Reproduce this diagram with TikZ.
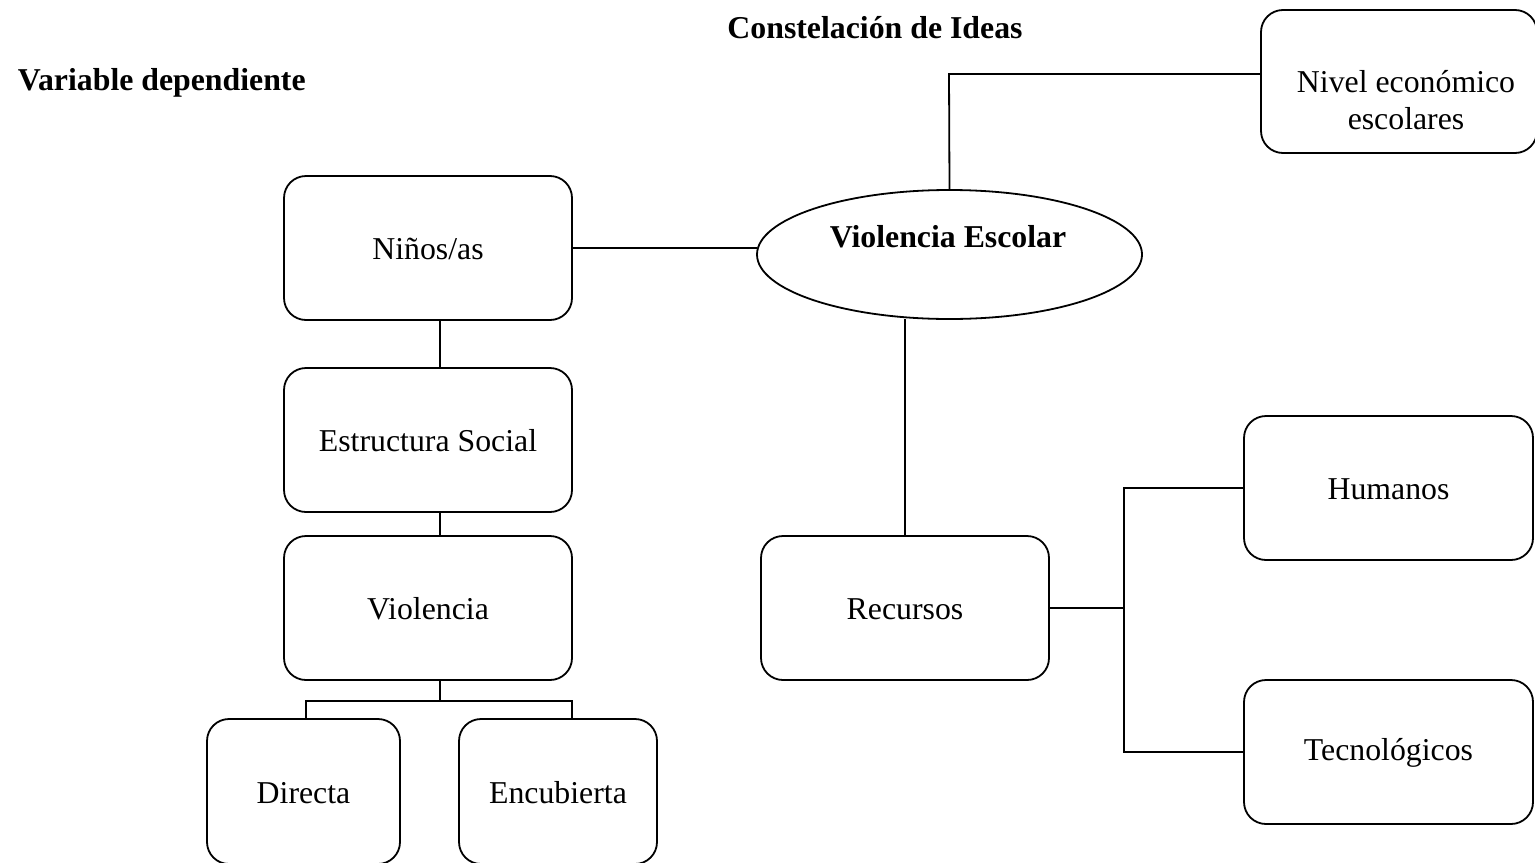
\documentclass[tikz,border=0pt]{standalone}
\usepackage{fontspec}
\setmainfont{Liberation Serif}
\usetikzlibrary{shapes.geometric}
\begin{document}
\begin{tikzpicture}[x=0.5pt,y=-0.5pt,
  every node/.style={font=\fontsize{15.9}{18.5}\selectfont, inner sep=0pt, outer sep=0pt},
  box/.style={draw, line width=0.9pt, rounded corners=11pt, minimum width=144pt, minimum height=72pt, text depth=0pt, text height=0pt},
  conn/.style={line width=0.9pt},
  title/.style={font=\fontsize{15.9}{18.5}\selectfont\bfseries}]
\useasboundingbox (0,0) rectangle (1535,862);
% titles
\node[title] (t1) at (875,28) {Constelación de Ideas};
\node[title, anchor=west] (t2) at (18,83) {Variable dependiente};
% boxes
\node[box, minimum width=138pt, minimum height=71.5pt] (nivel) at (1399,81.5) {};
\node[align=center] (niveltxt) at (1406,100) {Nivel económico\\escolares};
\node[draw, ellipse, line width=0.9pt, minimum width=192.5pt, minimum height=64.5pt] (ve) at (949.5,254.5) {};
\node[title] (vetxt) at (948,237) {Violencia Escolar};
\node[box] (ninos) at (428,248) {};
\node (ninostxt) at (428,249) {Niños/as};
\node[box] (estr) at (428,440) {};
\node (estrtxt) at (428,441) {Estructura Social};
\node[box] (viol) at (428,608) {};
\node (violtxt) at (428,609) {Violencia};
\node[box, minimum width=96.5pt, minimum height=72.5pt] (dir) at (303.5,791.5) {};
\node (dirtxt) at (303.5,793) {Directa};
\node[box, minimum width=99pt, minimum height=72.5pt] (enc) at (558,791.5) {};
\node (enctxt) at (558,793) {Encubierta};
\node[box] (rec) at (905,608) {};
\node (rectxt) at (905,609) {Recursos};
\node[box, minimum width=144.5pt] (hum) at (1388.5,488) {};
\node (humtxt) at (1388.5,489) {Humanos};
\node[box, minimum width=144.5pt] (tec) at (1388.5,752) {};
\node (tectxt) at (1388.5,753) {Tecnológicos};
% connectors
\coordinate (nj) at (949,74);
\draw[conn] (ve.north) -- (nj) -- (nj -| nivel.west);
\draw[conn] (ninos.east) -- (ninos.east -| ve.west);
\draw[conn] (rec.north) -- (rec.north |- ve.south);
\draw[conn] (ninos.south -| 440,0) -- (estr.north -| 440,0);
\draw[conn] (estr.south -| 440,0) -- (viol.north -| 440,0);
\coordinate (vj) at (440,701);
\draw[conn] (viol.south -| vj) -- (vj);
\draw[conn] ([xshift=1.25pt]dir.north) |- (vj);
\draw[conn] ([xshift=7pt]enc.north) |- (vj);
\coordinate (rj) at (1124,608);
\draw[conn] (rec.east) -- (rj);
\draw[conn] (hum.west) -| (rj);
\draw[conn] (tec.west) -| (rj);
\end{tikzpicture}
\end{document}
